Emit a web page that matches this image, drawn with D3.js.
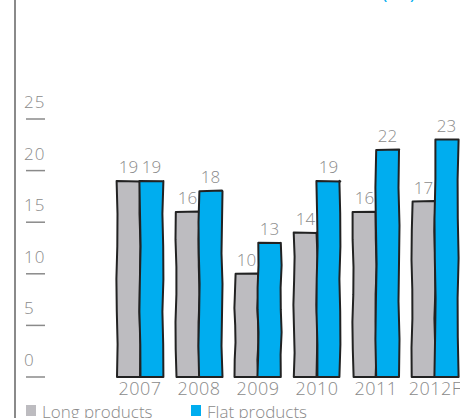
<!DOCTYPE html>
<html lang="en">
<head>
    <meta charset="utf-8">
    <title>Steel products</title>
    <script src="https://d3js.org/d3.v7.min.js" charset="utf-8"></script>
    <style>
        body { margin: 0; background: #fff; }
        text { font-family: "Open Sans", sans-serif; font-weight: 300; }
    </style>
</head>
<body>

    <script>

    var years = ["2007", "2008", "2009", "2010", "2011", "2012F"]
    var series = ["Long products", "Flat products"]
    var longVals = [19, 16, 10, 14, 16, 17]
    var flatVals = [19, 18, 13, 19, 22, 23]
    var yTicks = [0, 5, 10, 15, 20, 25]
    var colors = ["#bdbcc0", "#00adef"]

    var w = 460, h = 418

    var svg = d3.select("body").append("svg").attr("width", w).attr("height", h)

    var x = d3.scalePoint().domain(years).range([140, 435])
    var xs = d3.scaleBand().domain(series).range([-23, 23])
    var y = d3.scaleLinear().domain([0, 25]).range([377, 119])

    // left frame line
    svg.append("line").attr("x1", 15).attr("x2", 15).attr("y1", 0).attr("y2", h)
        .attr("stroke", "#8a8a8a").attr("stroke-width", 2)

    // title remnant cut off at the top
    svg.append("text").attr("x", 382).attr("y", -1).text("(Mt)")
        .attr("fill", "#00adef").attr("font-size", 18).style("font-weight", 400)

    // y ticks: label above a short dash
    var tk = svg.append("g").selectAll("g").data(yTicks).enter().append("g")
    tk.append("line").attr("x1", 26).attr("x2", 45)
        .attr("y1", function (d) { return y(d) }).attr("y2", function (d) { return y(d) })
        .attr("stroke", "#8a8a8a").attr("stroke-width", 1.5)
    tk.append("text").attr("x", 24).attr("y", function (d) { return y(d) - 11 })
        .attr("font-size", 17).attr("fill", "#8a8a8a").attr("letter-spacing", 1)
        .text(function (d) { return d })

    var bars = []
    years.forEach(function (yr, i) {
        bars.push({ year: yr, s: series[0], v: longVals[i], c: colors[0], k: i * 2 })
        bars.push({ year: yr, s: series[1], v: flatVals[i], c: colors[1], k: i * 2 + 1 })
    })

    // slightly wobbly hand drawn outline
    function wobble(d) {
        var x0 = x(d.year) + xs(d.s), x1 = x0 + xs.bandwidth()
        var y0 = y(0), y1 = y(d.v)
        var n = 6, pts = []
        for (var j = 0; j <= n; j++) {
            var yy = y0 + (y1 - y0) * j / n
            pts.push([x0 + 0.6 * Math.sin(j * 1.7 + d.k), yy])
        }
        pts.push([x1 + 0.5 * Math.sin(d.k), y1 + 0.6 * Math.cos(d.k)])
        for (var j = n; j >= 0; j--) {
            var yy = y0 + (y1 - y0) * j / n
            pts.push([x1 + 0.6 * Math.sin(j * 2.1 + d.k * 0.7), yy])
        }
        return "M" + pts.map(function (p) { return p[0].toFixed(1) + "," + p[1].toFixed(1) }).join("L") + "Z"
    }

    svg.append("g").selectAll("path").data(bars).enter().append("path")
        .attr("d", wobble).attr("fill", function (d) { return d.c })
        .attr("stroke", "#222").attr("stroke-width", 2).attr("stroke-linejoin", "round")

    svg.append("g").selectAll("text").data(bars).enter().append("text")
        .attr("x", function (d) { return x(d.year) + xs(d.s) + xs.bandwidth() / 2 })
        .attr("y", function (d) { return y(d.v) - 8 })
        .attr("text-anchor", "middle").attr("font-size", 17).attr("fill", "#8a8a8a")
        .text(function (d) { return d.v })

    svg.append("g").selectAll("text").data(years).enter().append("text")
        .attr("x", function (d) { return x(d) }).attr("y", 395)
        .attr("text-anchor", "middle").attr("font-size", 18).attr("fill", "#8a8a8a")
        .attr("letter-spacing", 0.5)
        .text(function (d) { return d })

    // legend, cut off by the bottom edge
    var lg = svg.append("g").selectAll("g").data(series).enter().append("g")
        .attr("transform", function (d, i) { return "translate(" + (26 + i * 165) + ",0)" })
    lg.append("rect").attr("x", 0).attr("y", 405).attr("width", 10).attr("height", 11)
        .attr("fill", function (d, i) { return colors[i] })
    lg.append("text").attr("x", 16).attr("y", 418).attr("font-size", 17).attr("fill", "#8a8a8a")
        .text(function (d) { return d })

    </script>

</body>
</html>
